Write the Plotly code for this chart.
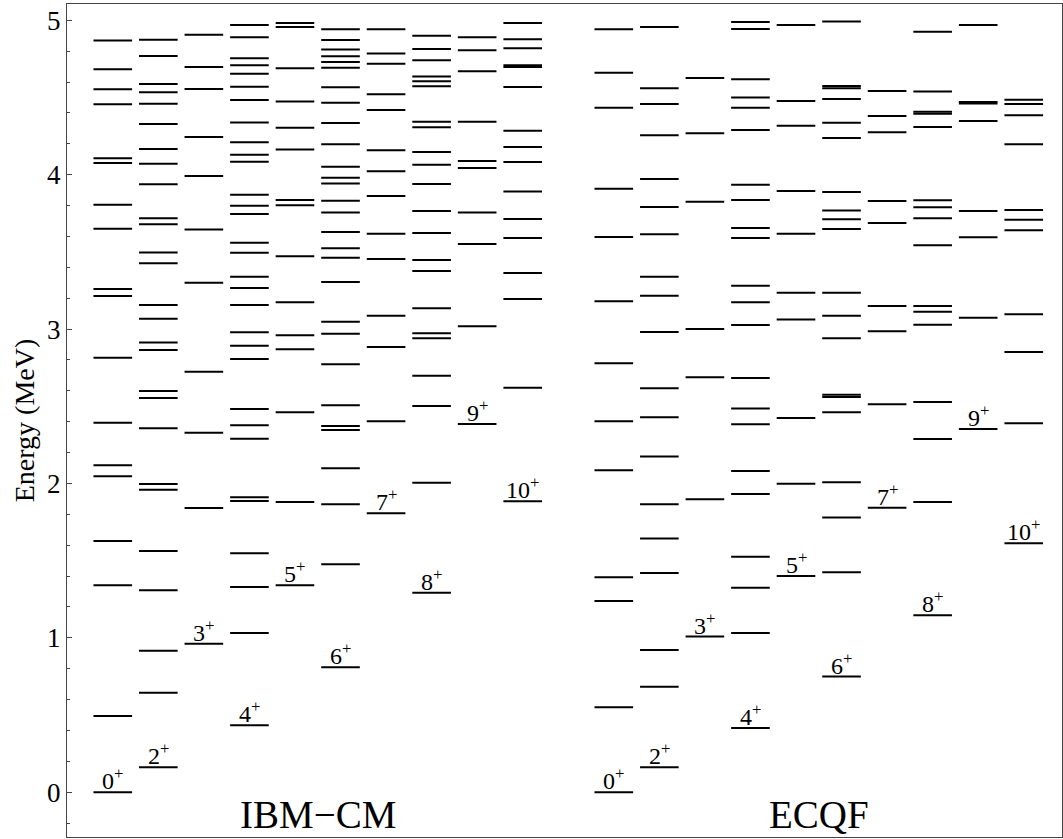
import plotly.graph_objects as go

# ---- data (MeV) ----
spins = ["0", "2", "3", "4", "5", "6", "7", "8", "9", "10"]
models = ["IBM\u2212CM", "ECQF"]

ibm_0 = [0, 0.494, 1.341, 1.628, 2.047, 2.118, 2.394, 2.815, 3.214, 3.26, 3.650, 3.806, 4.076, 4.106, 4.456, 4.553, 4.683, 4.870]
ibm_2 = [0.162, 0.645, 0.917, 1.308, 1.563, 1.960, 1.997, 2.357, 2.554, 2.599, 2.865, 2.914, 3.067, 3.156, 3.426, 3.497, 3.679, 3.718, 3.938, 4.071, 4.166, 4.328, 4.460, 4.534, 4.587, 4.769, 4.874]
ibm_3 = [0.962, 1.841, 2.329, 2.724, 3.301, 3.646, 3.992, 4.244, 4.555, 4.698, 4.907]
ibm_4 = [0.434, 1.032, 1.330, 1.548, 1.887, 1.911, 2.290, 2.377, 2.483, 2.806, 2.893, 2.979, 3.156, 3.266, 3.339, 3.495, 3.560, 3.745, 3.799, 3.870, 4.084, 4.130, 4.210, 4.339, 4.484, 4.570, 4.654, 4.710, 4.754, 4.890, 4.970]
ibm_5 = [1.341, 1.880, 2.461, 2.869, 2.960, 3.174, 3.472, 3.802, 3.836, 4.164, 4.304, 4.475, 4.689, 4.957, 4.983]
ibm_6 = [0.810, 1.477, 1.865, 2.098, 2.346, 2.372, 2.506, 2.772, 2.970, 3.048, 3.305, 3.462, 3.523, 3.629, 3.756, 3.832, 3.944, 3.981, 4.052, 4.197, 4.335, 4.466, 4.566, 4.693, 4.730, 4.767, 4.812, 4.872, 4.942]
ibm_7 = [1.807, 2.403, 2.884, 3.087, 3.454, 3.618, 3.862, 4.022, 4.158, 4.419, 4.521, 4.719, 4.786, 4.942]
ibm_8 = [1.293, 2.005, 2.502, 2.698, 2.940, 2.973, 3.135, 3.376, 3.448, 3.622, 3.765, 3.940, 4.065, 4.147, 4.307, 4.343, 4.574, 4.605, 4.637, 4.741, 4.814, 4.900]
ibm_9 = [2.385, 3.018, 3.551, 3.756, 4.043, 4.089, 4.343, 4.670, 4.806, 4.890]
ibm_10 = [1.885, 2.620, 3.195, 3.363, 3.590, 3.713, 3.892, 4.082, 4.179, 4.285, 4.568, 4.698, 4.710, 4.819, 4.877, 4.983]

ecqf_0 = [0, 0.551, 1.239, 1.392, 2.085, 2.403, 2.779, 3.180, 3.597, 3.909, 4.434, 4.661, 4.942]
ecqf_2 = [0.162, 0.684, 0.922, 1.420, 1.643, 1.865, 2.174, 2.429, 2.617, 2.981, 3.216, 3.339, 3.614, 3.791, 3.972, 4.255, 4.458, 4.561, 4.957]
ecqf_3 = [1.008, 1.898, 2.688, 3.001, 3.825, 4.268, 4.626]
ecqf_4 = [0.416, 1.032, 1.325, 1.526, 1.932, 2.081, 2.383, 2.485, 2.683, 3.027, 3.174, 3.281, 3.590, 3.655, 3.836, 3.935, 4.290, 4.434, 4.501, 4.618, 4.944, 4.989]
ecqf_5 = [1.401, 1.999, 2.424, 3.063, 3.236, 3.618, 3.894, 4.317, 4.477, 4.970]
ecqf_6 = [0.749, 1.425, 1.779, 2.008, 2.461, 2.56, 2.575, 2.940, 3.087, 3.236, 3.648, 3.711, 3.769, 3.888, 4.238, 4.337, 4.490, 4.56, 4.575, 4.993]
ecqf_7 = [1.843, 2.513, 2.986, 3.150, 3.687, 3.830, 4.275, 4.380, 4.542]
ecqf_8 = [1.146, 1.880, 2.288, 2.528, 3.029, 3.113, 3.150, 3.543, 3.718, 3.789, 3.834, 4.309, 4.395, 4.408, 4.540, 4.926]
ecqf_9 = [2.353, 3.074, 3.595, 3.765, 4.348, 4.462, 4.471, 4.970]
ecqf_10 = [1.613, 2.390, 2.852, 3.096, 3.640, 3.709, 3.771, 4.197, 4.385, 4.458, 4.486]

ibm = [ibm_0, ibm_2, ibm_3, ibm_4, ibm_5, ibm_6, ibm_7, ibm_8, ibm_9, ibm_10]
ecqf = [ecqf_0, ecqf_2, ecqf_3, ecqf_4, ecqf_5, ecqf_6, ecqf_7, ecqf_8, ecqf_9, ecqf_10]

# ---- layout constants ----
HALF = 0.424
SERIF = "Liberation Serif, Times New Roman, serif"

fig = go.Figure()
annotations = []

for g, (model, cols) in enumerate(zip(models, [ibm, ecqf])):
    offset = 0 if g == 0 else 11
    xs, ys = [], []
    for i, (spin, levels) in enumerate(zip(spins, cols)):
        c = offset + i
        for e in levels:
            xs += [c - HALF, c + HALF, None]
            ys += [e, e, None]
        annotations.append(dict(
            x=c, y=min(levels), xref="x", yref="y",
            text=f"{spin}<sup>+</sup>", showarrow=False,
            xanchor="center", yanchor="bottom", yshift=-4,
            font=dict(family=SERIF, size=24, color="black")))
    fig.add_trace(go.Scatter(x=xs, y=ys, mode="lines",
                             line=dict(color="black", width=2),
                             hoverinfo="skip", showlegend=False))
    annotations.append(dict(
        x=offset + 4.5, y=0.0, xref="x", yref="paper", text=model,
        showarrow=False, xanchor="center", yanchor="bottom", yshift=-1,
        font=dict(family=SERIF, size=39, color="black")))

fig.update_layout(
    width=1063, height=839,
    margin=dict(l=67, r=1, t=4, b=2),
    paper_bgcolor="white", plot_bgcolor="white",
    annotations=annotations,
    font=dict(family=SERIF, color="black"),
)
fig.update_xaxes(range=[-1.005, 20.84], showgrid=False, zeroline=False,
                 showticklabels=False, ticks="", showline=True, mirror=True,
                 linecolor="#444", linewidth=1)
fig.update_yaxes(range=[-0.29, 5.106], showgrid=False, zeroline=False,
                 tickvals=[0, 1, 2, 3, 4, 5], ticks="inside", ticklen=5,
                 tickcolor="#444", tickwidth=1,
                 minor=dict(dtick=0.2, ticks="inside", ticklen=3,
                            tickcolor="#444", showgrid=False),
                 tickfont=dict(family=SERIF, size=27, color="black"),
                 title=dict(text="Energy (MeV)", standoff=4,
                            font=dict(family=SERIF, size=28, color="black")),
                 showline=True, mirror=True, linecolor="#444", linewidth=1)

fig.write_html("out.html")
